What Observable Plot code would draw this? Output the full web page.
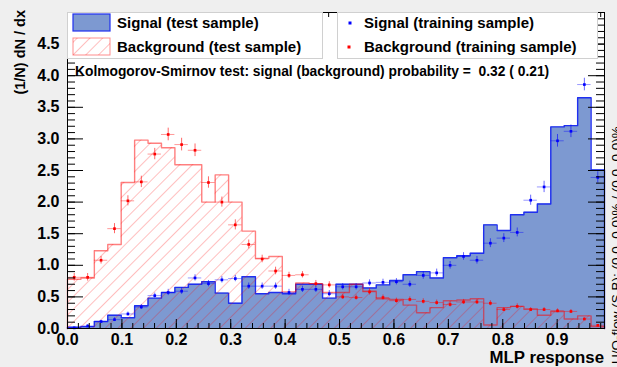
<!DOCTYPE html>
<html><head><meta charset="utf-8">
<script src="https://cdn.jsdelivr.net/npm/d3@7"></script>
<script src="https://cdn.jsdelivr.net/npm/@observablehq/plot@0.6"></script>
<style>
html,body{margin:0;padding:0;background:#efefef;overflow:hidden;}
#chart{width:617px;height:367px;overflow:hidden;}
</style></head><body><div id="chart"></div>
<script>
// ---------- data ----------
const xMin = 0, xMax = 0.987, nBins = 40;
const sigTest = [0.02,0.03,0.11,0.21,0.17,0.36,0.48,0.57,0.65,0.70,
                 0.74,0.56,0.40,0.82,0.55,0.57,0.55,0.70,0.70,0.48,
                 0.70,0.70,0.64,0.69,0.76,0.85,0.90,0.80,1.12,1.15,
                 1.19,1.64,1.55,1.80,1.84,1.97,3.19,3.21,3.65,2.51];
const bkgTest = [0.78,0.80,1.23,1.33,2.31,2.98,2.93,2.86,2.59,2.59,
                 2.00,2.43,2.00,1.54,1.11,1.14,0.58,0.72,0.71,0.57,
                 0.57,0.70,0.59,0.47,0.46,0.37,0.25,0.33,0.44,0.45,
                 0.47,0.055,0.33,0.35,0.31,0.21,0.27,0.15,0.20,0.03];
const sigTrain = [0.01,0.04,0.11,0.14,0.23,0.34,0.52,0.57,0.59,0.80,
                  0.71,0.77,0.79,0.67,0.67,0.67,0.57,0.62,0.62,0.55,
                  0.66,0.66,0.72,0.73,0.74,0.70,0.84,0.88,1.00,1.14,
                  1.08,1.35,1.43,1.52,2.03,2.24,2.97,3.12,3.86,2.39];
const sigTrainErr = [0.01,0.02,0.02,0.03,0.03,0.04,0.04,0.05,0.05,0.05,
                     0.05,0.05,0.05,0.05,0.05,0.05,0.05,0.05,0.05,0.05,
                     0.05,0.05,0.05,0.05,0.05,0.05,0.06,0.06,0.06,0.06,
                     0.06,0.07,0.07,0.07,0.08,0.09,0.10,0.10,0.10,0.09];
const bkgTrain = [0.81,0.81,1.08,1.58,2.02,2.32,2.76,3.07,2.91,2.82,
                  2.31,2.00,1.64,1.33,1.10,0.91,0.84,0.85,0.71,0.69,
                  0.50,0.49,0.58,0.49,0.44,0.46,0.43,0.41,0.38,0.42,
                  0.42,0.40,0.30,0.35,0.30,0.30,0.28,0.27,0.15,0.05];
const bkgTrainErr = [0.06,0.06,0.06,0.08,0.08,0.09,0.09,0.10,0.10,0.10,
                     0.09,0.08,0.08,0.07,0.06,0.06,0.05,0.05,0.05,0.05,
                     0.04,0.04,0.05,0.04,0.04,0.04,0.04,0.04,0.04,0.04,
                     0.04,0.04,0.03,0.04,0.03,0.03,0.03,0.03,0.02,0.01];
const xTickLabels = [0.0,0.1,0.2,0.3,0.4,0.5,0.6,0.7,0.8,0.9];
const yTickLabels = [0.0,0.5,1.0,1.5,2.0,2.5,3.0,3.5,4.0,4.5];
const yMax = 5.0;
const legendLabels = ["Signal (test sample)","Background (test sample)",
                      "Signal (training sample)","Background (training sample)"];
const ksText = "Kolmogorov-Smirnov test: signal (background) probability =  0.32 ( 0.21)";
const xTitle = "MLP response";
const yTitle = "(1/N) dN / dx";
const flowText = "U/O-flow (S,B): (0.0, 0.0)% / (0.0, 0.0)%";

// ---------- styling ----------
const W = 617, H = 367, mL = 67, mR = 13, mT = 12, mB = 39;
const FW = W - mL - mR, FH = H - mT - mB;
const font = "'Liberation Sans', Arial, Helvetica, sans-serif";
const sigFill = "#7d99d1", sigLine = "#1f2ff0", bkgLine = "#ff0000";

const bw = (xMax - xMin) / nBins;
const bins = d3.range(nBins).map(i => ({
  x1: xMin + i * bw, x2: xMin + (i + 1) * bw, xc: xMin + (i + 0.5) * bw,
  sR: sigTrain[i], sE: sigTrainErr[i], bR: bkgTrain[i], bE: bkgTrainErr[i]
}));
function stepPts(vals) {
  const p = [[xMin, 0]];
  vals.forEach((v, i) => p.push([xMin + i * bw, v]));
  p.push([xMax, vals[vals.length - 1]]);
  p.push([xMax, 0]);
  return p;
}
const sigSteps = stepPts(sigTest), bkgSteps = stepPts(bkgTest);
const xMinor = d3.range(0, xMax, 0.02);
const yMinor = d3.range(0, yMax + 0.001, 0.1);
const yMajor = yTickLabels.concat([yMax]);

const px = d => d[0], py = d => d[1];

const svg = Plot.plot({
  width: W, height: H,
  marginLeft: mL, marginRight: mR, marginTop: mT, marginBottom: mB,
  style: {background: "#efefef", fontFamily: font, overflow: "hidden"},
  x: {domain: [xMin, xMax], label: null},
  y: {domain: [0, yMax], label: null},
  marks: [
    Plot.frame({fill: "white", stroke: "none"}),
    Plot.areaY(sigSteps, {x: px, y: py, curve: "step-after", fill: sigFill}),
    Plot.line(sigSteps, {x: px, y: py, curve: "step-after", stroke: sigLine, strokeWidth: 1.4}),
    Plot.areaY(bkgSteps, {x: px, y: py, curve: "step-after", fill: "url(#hatch)"}),
    Plot.line(bkgSteps, {x: px, y: py, curve: "step-after", stroke: bkgLine, strokeOpacity: 0.5, strokeWidth: 1.4}),
    // training samples: error bars + markers
    Plot.ruleY(bins, {y: "bR", x1: "x1", x2: "x2", stroke: "#ff0000", strokeOpacity: 0.4}),
    Plot.ruleX(bins, {x: "xc", y1: d => d.bR - d.bE, y2: d => d.bR + d.bE, stroke: "#ff0000", strokeOpacity: 0.6}),
    Plot.dot(bins, {x: "xc", y: "bR", r: 1.5, symbol: "square", fill: "#ff0000"}),
    Plot.ruleY(bins, {y: "sR", x1: "x1", x2: "x2", stroke: "#0000ff", strokeOpacity: 0.4}),
    Plot.ruleX(bins, {x: "xc", y1: d => d.sR - d.sE, y2: d => d.sR + d.sE, stroke: "#0000ff", strokeOpacity: 0.6}),
    Plot.dot(bins, {x: "xc", y: "sR", r: 1.5, symbol: "square", fill: "#0000ff"}),
    // inward ticks (ROOT style)
    Plot.tickX(xMinor, {x: d => d, insetTop: FH - 5, stroke: "black", ariaLabel: "ticks-first"}),
    Plot.tickX(xTickLabels, {x: d => d, insetTop: FH - 9, stroke: "black"}),
    Plot.tickX(xMinor, {x: d => d, insetBottom: FH - 5, stroke: "black"}),
    Plot.tickX(xTickLabels, {x: d => d, insetBottom: FH - 9, stroke: "black"}),
    Plot.tickY(yMinor, {y: d => d, insetRight: FW - 8, stroke: "black"}),
    Plot.tickY(yMajor, {y: d => d, insetRight: FW - 16, stroke: "black"}),
    Plot.tickY(yMinor, {y: d => d, insetLeft: FW - 8, stroke: "black"}),
    Plot.tickY(yMajor, {y: d => d, insetLeft: FW - 16, stroke: "black"}),
    Plot.frame({stroke: "black"}),
    Plot.axisX(xTickLabels, {tickSize: 0, tickPadding: 5, tickFormat: d3.format(".1f"),
      fontSize: 16, fontWeight: "bold", fill: "black", label: null}),
    Plot.axisY(yTickLabels, {tickSize: 0, tickPadding: 8, tickFormat: d3.format(".1f"),
      fontSize: 16, fontWeight: "bold", fill: "black", label: null})
  ]
});
document.getElementById("chart").appendChild(svg);

const s = d3.select(svg);
// hatch pattern
const pat = s.insert("defs", ":first-child").append("pattern")
  .attr("id", "hatch").attr("patternUnits", "userSpaceOnUse")
  .attr("width", 9).attr("height", 9).attr("patternTransform", "rotate(45)");
pat.append("line").attr("x1", 0).attr("y1", 0).attr("x2", 0).attr("y2", 9)
  .attr("stroke", "#ff0000").attr("stroke-width", 1).attr("stroke-opacity", 0.5);

// legend (inserted below the tick marks)
const firstTicks = svg.querySelector('[aria-label="ticks-first"]');
const leg = d3.select(svg.insertBefore(document.createElementNS("http://www.w3.org/2000/svg", "g"), firstTicks));
leg.append("rect").attr("x", 67.5).attr("y", 12.5).attr("width", 255).attr("height", 46)
  .attr("fill", "white").attr("stroke", "#d0d0d0");
leg.append("rect").attr("x", 337.5).attr("y", 12.5).attr("width", 260).attr("height", 46)
  .attr("fill", "white").attr("stroke", "#d0d0d0");
leg.append("rect").attr("x", 73).attr("y", 14).attr("width", 37).attr("height", 17)
  .attr("fill", sigFill).attr("stroke", sigLine).attr("stroke-width", 1.2);
leg.append("rect").attr("x", 73).attr("y", 38).attr("width", 37).attr("height", 17)
  .attr("fill", "url(#hatch)").attr("stroke", bkgLine).attr("stroke-opacity", 0.45);
leg.append("rect").attr("x", 348.5).attr("y", 21.5).attr("width", 3).attr("height", 3).attr("fill", "#0000ff");
leg.append("rect").attr("x", 347.5).attr("y", 45.5).attr("width", 3).attr("height", 3).attr("fill", "#ff0000");
const legTxt = [[117, 28, legendLabels[0]], [117, 52, legendLabels[1]],
                [364, 28, legendLabels[2]], [364, 52, legendLabels[3]]];
legTxt.forEach(([x, y, t]) => leg.append("text").attr("x", x).attr("y", y)
  .attr("text-anchor", "start")
  .attr("font-size", 15).attr("font-weight", "bold").attr("fill", "black").text(t));
leg.append("text").attr("x", 75).attr("y", 75.5).attr("text-anchor", "start").attr("font-size", 13.8)
  .attr("font-weight", "bold").attr("fill", "black").text(ksText);

// titles
s.append("text").attr("x", 604).attr("y", 363).attr("text-anchor", "end")
  .attr("font-size", 16.8).attr("font-weight", "bold").attr("fill", "black").text(xTitle);
s.append("text").attr("transform", "translate(25,10) rotate(-90)").attr("text-anchor", "end")
  .attr("font-size", 14.5).attr("font-weight", "bold").attr("fill", "black").text(yTitle);
s.append("text").attr("transform", "translate(621,364) rotate(-90)").attr("text-anchor", "start")
  .attr("font-size", 13.5).attr("fill", "black").text(flowText);
</script>
</body></html>
